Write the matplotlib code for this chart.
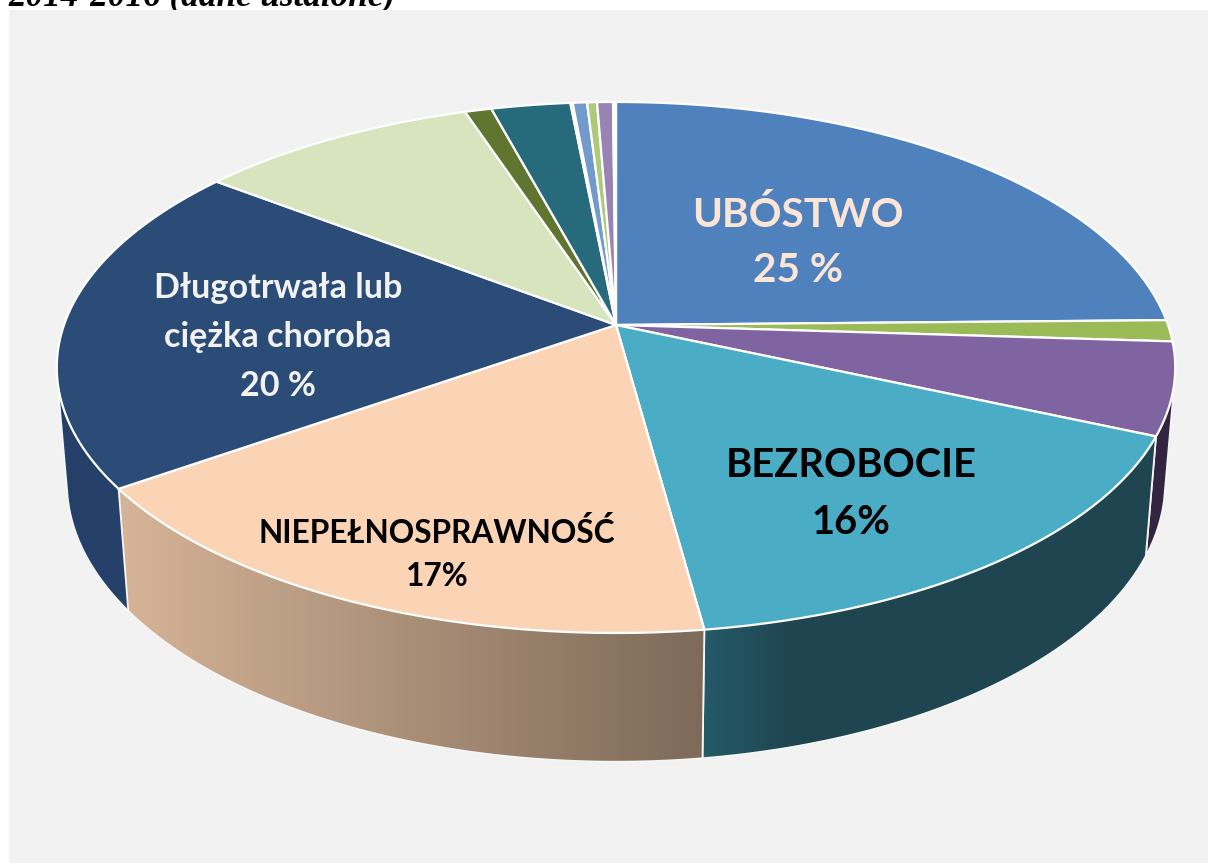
import numpy as np
import matplotlib
matplotlib.use('Agg')
import matplotlib.pyplot as plt
from matplotlib.colors import LinearSegmentedColormap
from matplotlib.patches import Polygon, Rectangle

# Udzial powodow (%), zgodnie z ruchem wskazowek zegara od gory
values = [24.7, 1.3, 5.6, 16.25, 17.4, 20.15, 9.5, 0.9, 2.67, 0.08, 0.48, 0.335, 0.535, 0.1]
colors = ['#4F81BD', '#9BBB59', '#8064A2', '#4BACC6', '#FBD3B5', '#2B4C77', '#D7E4BD',
          '#5F7530', '#276A7C', '#F79646', '#729ACA', '#AFC97A', '#9983B5', '#FFFFFF']
wall_left = ['#3B618E', '#748D43', '#33253F', '#255A68', '#D6B497', '#24406A', '#A2AB8E',
             '#475824', '#1D505D', '#B97035', '#567498', '#83975C', '#736288', '#FFFFFF']
wall_right = ['#3B618E', '#748D43', '#33253F', '#1F4550', '#7D6A59', '#2A4468', '#A2AB8E',
              '#475824', '#1D505D', '#B97035', '#567498', '#83975C', '#736288', '#FFFFFF']
wall_stop = [1, 1, 1, 0.2, 1, 1, 1, 1, 1, 1, 1, 1, 1, 1]
title = '2014-2016 (dane ustalone)'
labels = ['UBÓSTWO\n25 %', 'Długotrwała lub\nciężka choroba\n20 %', 'BEZROBOCIE\n16%', 'NIEPEŁNOSPRAWNOŚĆ\n17%']

cx, cy, a, b, k, m, c = 616, 325, 552, 258.7, 0.16, 0.018, 116


def project(theta, z=0):
    x, y = np.sin(theta), np.cos(theta)
    w = 1 + k*y + m*z
    return cx + a*x/w, cy - (b*y - c*z)/w


def hull(xs, ys):
    pts = sorted(set(zip(xs.tolist(), ys.tolist())))
    def half(seq):
        out = []
        for p in seq:
            while len(out) > 1 and ((out[-1][0]-out[-2][0])*(p[1]-out[-2][1])
                                    - (out[-1][1]-out[-2][1])*(p[0]-out[-2][0])) <= 0:
                out.pop()
            out.append(p)
        return out[:-1]
    return np.array(half(pts) + half(pts[::-1]))


fig = plt.figure(figsize=(12.08, 8.63), dpi=100, facecolor='white')
ax = fig.add_axes([0, 0, 1, 1])
ax.axis('off')

ax.text(8, 5, title, family='Liberation Serif', weight='bold', style='italic',
        fontsize=25.3, color='black', va='baseline', ha='left', zorder=0)
ax.add_patch(Rectangle((9, 10), 1199, 853, facecolor='#F2F2F2', edgecolor='none', zorder=1))

edges = np.cumsum([0] + values) / sum(values) * 2*np.pi
mids = (edges[:-1] + edges[1:]) / 2

# sciany boczne, od najdalszej do najblizszej
for i in np.argsort(-np.cos(mids)):
    t = np.linspace(edges[i], edges[i+1], 120)
    if np.cos(t).min() > 0.1:
        continue
    xt, yt = project(t)
    xb, yb = project(t, 1)
    shape = hull(np.r_[xt, xb], np.r_[yt, yb])
    stops = [(0, wall_left[i]), (wall_stop[i], wall_right[i])]
    if wall_stop[i] < 1:
        stops.append((1, wall_right[i]))
    cmap = LinearSegmentedColormap.from_list('w', stops)
    im = ax.imshow(np.linspace(0, 1, 256).reshape(1, -1), cmap=cmap, aspect='auto', zorder=2,
                   extent=[shape[:, 0].min(), shape[:, 0].max(), shape[:, 1].max(), shape[:, 1].min()],
                   interpolation='bilinear')
    im.set_clip_path(Polygon(shape, transform=ax.transData))
    ax.add_patch(Polygon(shape, fill=False, edgecolor='#F6F6F6', lw=1.3, zorder=2))

# wierzch kola
for i in range(len(values)):
    t = np.linspace(edges[i], edges[i+1], 200)
    xt, yt = project(t)
    ax.fill(np.r_[cx, xt], np.r_[cy, yt], facecolor=colors[i], edgecolor='white', lw=1.6,
            joinstyle='round', zorder=4)

font = ['Lato', 'DejaVu Sans']
ax.text(798, 242, labels[0], family=font, weight='bold', fontsize=29.2, color='#FBE5D6',
        ha='center', va='center', linespacing=1.6, zorder=5)
ax.text(278, 337, labels[1], family=font, weight='bold', fontsize=24.6, color='#F2F2F2',
        ha='center', va='center', linespacing=1.65, zorder=5)
ax.text(851, 494, labels[2], family=font, weight='bold', fontsize=28.7, color='black',
        ha='center', va='center', linespacing=1.66, zorder=5)
ax.text(437, 554, labels[3], family=font, weight='bold', fontsize=22.8, color='black',
        ha='center', va='center', linespacing=1.6, zorder=5)

ax.set_xlim(0, 1208)
ax.set_ylim(863, 0)
fig.savefig('out.png', dpi=100)
